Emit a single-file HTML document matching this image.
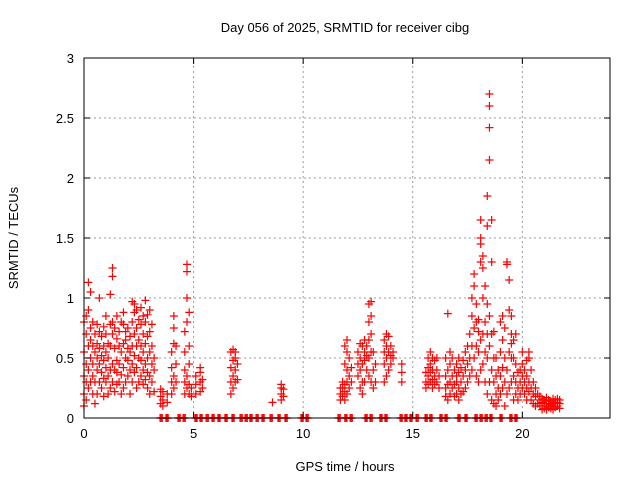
<!DOCTYPE html>
<html><head><meta charset="utf-8"><style>
body{margin:0;background:#fff}
svg text{font-family:"Liberation Sans",sans-serif;font-size:13px;fill:#000}
</style></head><body>
<svg id="chart" width="640" height="480" xmlns="http://www.w3.org/2000/svg">
<rect width="640" height="480" fill="#fff"/>
<text x="345" y="32" text-anchor="middle">Day 056 of 2025, SRMTID for receiver cibg</text>
<text transform="translate(18,238) rotate(-90)" text-anchor="middle">SRMTID / TECUs</text>
<text x="345" y="471" text-anchor="middle">GPS time / hours</text>
<g id="grid"></g>
<g id="marks"></g>
<rect x="84" y="58" width="526" height="360" fill="none" stroke="#000" stroke-width="1"/>
</svg>
<script>
const xTicks=[0,5,10,15,20];
const yTicks=[0,0.5,1,1.5,2,2.5,3];
const yTickLabels=["0","0.5","1","1.5","2","2.5","3"];
const colTimes=[0.0,0.1,0.2,0.3,0.4,0.5,0.6,0.7,0.8,0.9,1.0,1.1,1.2,1.3,1.4,1.5,1.6,1.7,1.8,1.9,2.0,2.1,2.2,2.3,2.4,2.5,2.6,2.7,2.8,2.9,3.0,3.1,3.2,3.5,3.6,3.8,4.0,4.1,4.2,4.6,4.7,4.8,4.9,5.1,5.3,5.4,6.7,6.8,6.9,7.0,8.6,9.0,9.1,11.7,11.8,11.9,12.0,12.1,12.2,12.5,12.6,12.7,12.8,12.9,13.0,13.1,13.2,13.3,13.7,13.8,13.9,14.0,14.1,14.5,15.6,15.7,15.8,15.9,16.0,16.1,16.2,16.5,16.6,16.7,16.8,16.9,17.0,17.1,17.2,17.3,17.4,17.5,17.6,17.7,17.8,17.9,18.0,18.1,18.2,18.3,18.4,18.5,18.6,18.7,18.8,18.9,19.0,19.1,19.2,19.3,19.4,19.5,19.6,19.7,19.8,19.9,20.0,20.1,20.2,20.3,20.4,20.5,20.6,20.7,20.8,20.9,21.0,21.1,21.2,21.3,21.4,21.5,21.6,21.7];
const colValues=[[0.1,0.2,0.35,0.55,0.8],[0.15,0.3,0.45,0.7,0.85],[0.25,0.4,0.6,0.9,1.13],[0.3,0.5,0.65,0.75,1.05],[0.2,0.35,0.45,0.6,0.8],[0.12,0.3,0.55,0.7],[0.2,0.4,0.5,0.62,0.78],[0.3,0.45,0.58,0.72,1.0],[0.25,0.38,0.52,0.68],[0.18,0.33,0.48,0.6,0.76],[0.3,0.42,0.55,0.7,0.85],[0.2,0.35,0.5,0.62],[0.25,0.4,0.6,0.78,1.03],[0.3,0.45,0.7,0.8,1.18,1.25],[0.22,0.4,0.58,0.75],[0.28,0.38,0.48,0.66,0.85],[0.3,0.45,0.6,0.72],[0.2,0.36,0.55,0.8],[0.25,0.42,0.62,0.78,0.88],[0.3,0.5,0.65,0.72],[0.35,0.48,0.58,0.75],[0.2,0.4,0.55,0.68],[0.3,0.45,0.6,0.8,0.97],[0.38,0.52,0.7,0.88,0.95],[0.25,0.42,0.6,0.75,0.9],[0.3,0.5,0.65,0.82],[0.35,0.48,0.6,0.78,0.92],[0.28,0.4,0.55,0.7,0.85],[0.32,0.45,0.62,0.8,0.98],[0.25,0.38,0.5,0.68,0.86],[0.2,0.35,0.55,0.72,0.9],[0.3,0.45,0.6,0.78],[0.22,0.4,0.5],[0.12,0.18,0.24],[0.1,0.15,0.22],[0.13,0.2],[0.2,0.3,0.42,0.55],[0.25,0.35,0.62,0.75,0.85],[0.3,0.45,0.6],[0.2,0.3,0.4,0.55,0.72],[0.25,0.35,0.8,1.0,1.22,1.28],[0.2,0.28,0.45,0.6,0.88],[0.18,0.25],[0.2,0.28,0.35],[0.22,0.3,0.38,0.42],[0.25,0.32],[0.2,0.3,0.42,0.55],[0.25,0.35,0.48,0.57],[0.3,0.4,0.5,0.55],[0.32,0.45],[0.13],[0.15,0.2,0.25,0.28],[0.18,0.24],[0.15,0.2,0.25],[0.18,0.25,0.3],[0.15,0.22,0.28,0.45,0.6],[0.2,0.3,0.4,0.55,0.65],[0.25,0.35,0.5],[0.3,0.42],[0.35,0.45,0.55],[0.25,0.4,0.5,0.62],[0.2,0.3,0.45,0.6],[0.3,0.48,0.55,0.65],[0.4,0.52,0.6],[0.35,0.5,0.65,0.8,0.95],[0.3,0.55,0.7,0.85,0.97],[0.25,0.4,0.55],[0.3,0.45],[0.3,0.45,0.55,0.65],[0.35,0.5,0.6,0.7],[0.4,0.55,0.68],[0.45,0.52,0.6],[0.5,0.55],[0.3,0.38,0.45],[0.25,0.3,0.38],[0.28,0.35,0.42,0.5],[0.3,0.38,0.45,0.55],[0.25,0.32,0.4,0.5],[0.28,0.35,0.48],[0.3,0.4,0.5],[0.25,0.35],[0.18,0.25,0.35,0.5],[0.15,0.28,0.4,0.87],[0.2,0.3,0.45,0.55],[0.25,0.35,0.5],[0.18,0.28,0.4],[0.2,0.3,0.35,0.45],[0.15,0.25,0.38,0.5],[0.2,0.3,0.42],[0.22,0.35,0.48],[0.25,0.4,0.55],[0.3,0.45,0.6],[0.35,0.5,0.7],[0.4,0.6,0.85,1.0],[0.5,0.75,1.1,1.2],[0.35,0.6,0.8,0.95],[0.3,0.55,0.72,0.82],[0.4,0.65,1.3,1.45,1.5,1.65],[0.45,0.7,1.0,1.25,1.35],[0.3,0.55,0.8,1.1],[0.2,0.5,0.7,0.95,1.6,1.85],[0.3,0.6,0.85,2.15,2.42,2.6,2.7],[0.15,0.4,0.7,1.3,1.65],[0.12,0.3,0.5,0.72],[0.1,0.2,0.35,0.5],[0.15,0.25,0.4],[0.2,0.35,0.55,0.8],[0.25,0.42,0.65,0.85],[0.1,0.3,0.5,0.75],[0.2,0.4,1.28,1.3],[0.25,0.55,0.9,1.15],[0.3,0.5,0.62,0.7,0.85],[0.15,0.35,0.5,0.65],[0.2,0.3,0.45,0.7],[0.15,0.25,0.38],[0.2,0.3,0.4],[0.25,0.35,0.45,0.55],[0.2,0.3,0.4],[0.15,0.25,0.35,0.48],[0.22,0.3,0.5,0.55],[0.15,0.25,0.4],[0.12,0.2,0.3],[0.1,0.18,0.25],[0.12,0.2],[0.1,0.15,0.18],[0.07,0.1,0.13,0.16],[0.08,0.12,0.15],[0.07,0.1,0.14,0.17],[0.09,0.12,0.15],[0.08,0.11,0.14],[0.07,0.1,0.13,0.16],[0.09,0.12,0.15],[0.1,0.13,0.16],[0.08,0.12,0.15]];
const zeroTimes=[3.47,3.74,4.29,4.52,5.06,5.29,5.57,5.84,6.11,6.43,6.75,7.12,7.35,7.57,7.85,8.12,8.49,8.85,9.17,9.9,10.13,11.59,11.9,12.14,12.82,13.05,13.5,13.73,14.42,14.64,14.87,15.15,15.56,15.78,16.24,16.47,17.06,17.38,17.84,18.07,18.3,18.52,18.98,19.43,19.66];

const X0=84,X1=610,Y0=418,Y1=58;
const xs=t=>X0+(t/24)*(X1-X0);
const ys=v=>Y0-(v/3)*(Y0-Y1);
const NS="http://www.w3.org/2000/svg";
const grid=document.getElementById('grid'),marks=document.getElementById('marks'),svg=document.getElementById('chart');
function mk(tag,attrs,parent){const e=document.createElementNS(NS,tag);for(const k in attrs)e.setAttribute(k,attrs[k]);parent.appendChild(e);return e;}
xTicks.forEach(t=>{const x=xs(t);
 if(t>0){const g=mk('line',{x1:x,y1:Y0,x2:x,y2:Y1,stroke:'#999','stroke-dasharray':'2,3'},grid);
 
 }
 mk('line',{x1:x,y1:Y0,x2:x,y2:Y0-6,stroke:'#000'},svg);
 mk('line',{x1:x,y1:Y1,x2:x,y2:Y1+6,stroke:'#000'},svg);
 const l=mk('text',{x:x,y:Y0+20,'text-anchor':'middle'},svg);l.textContent=t;
 
 
});
yTicks.forEach((v,i)=>{const y=ys(v);
 if(v>0&&v<3){const g=mk('line',{x1:X0,y1:y,x2:X1,y2:y,stroke:'#999','stroke-dasharray':'2,3'},grid);
 
 }
 mk('line',{x1:X0,y1:y,x2:X0+6,y2:y,stroke:'#000'},svg);
 mk('line',{x1:X1,y1:y,x2:X1-6,y2:y,stroke:'#000'},svg);
 const l=mk('text',{x:X0-10,y:y+5,'text-anchor':'end'},svg);l.textContent=yTickLabels[i];
 
 
});
function cross(t,v){const x=xs(t),y=ys(v);
 const p=mk('path',{d:`M${x-4},${y}H${x+4}M${x},${y-4}V${y+4}`,stroke:'#f00','stroke-width':1.2,fill:'none'},marks);
 
 
}
colTimes.forEach((t,i)=>{const vals=colValues[i]||[];vals.forEach(v=>cross(t,v));});
zeroTimes.forEach(t=>{[0,0.05,0.1].forEach(d=>cross(t+d,0));});
</script>
</body></html>
